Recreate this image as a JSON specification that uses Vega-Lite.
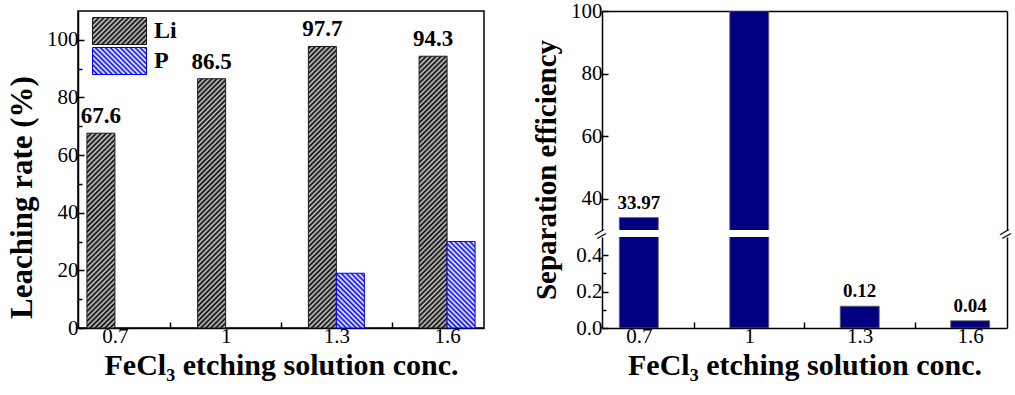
{
"$schema": "https://vega.github.io/schema/vega-lite/v6.json",
"padding": {"left": 5, "top": 0, "right": 0, "bottom": 0},
"params": [
{"name": "hatchK", "value": [{"offset":0,"color":"#000"},{"offset":0.008,"color":"#ccc"},{"offset":0.016,"color":"#000"},{"offset":0.024,"color":"#ccc"},{"offset":0.032,"color":"#000"},{"offset":0.04,"color":"#ccc"},{"offset":0.048,"color":"#000"},{"offset":0.056,"color":"#ccc"},{"offset":0.064,"color":"#000"},{"offset":0.072,"color":"#ccc"},{"offset":0.08,"color":"#000"},{"offset":0.088,"color":"#ccc"},{"offset":0.096,"color":"#000"},{"offset":0.104,"color":"#ccc"},{"offset":0.112,"color":"#000"},{"offset":0.12,"color":"#ccc"},{"offset":0.128,"color":"#000"},{"offset":0.136,"color":"#ccc"},{"offset":0.144,"color":"#000"},{"offset":0.152,"color":"#ccc"},{"offset":0.16,"color":"#000"},{"offset":0.168,"color":"#ccc"},{"offset":0.176,"color":"#000"},{"offset":0.184,"color":"#ccc"},{"offset":0.192,"color":"#000"},
{"offset":0.2,"color":"#ccc"},{"offset":0.208,"color":"#000"},{"offset":0.216,"color":"#ccc"},{"offset":0.224,"color":"#000"},{"offset":0.232,"color":"#ccc"},{"offset":0.24,"color":"#000"},{"offset":0.248,"color":"#ccc"},{"offset":0.256,"color":"#000"},{"offset":0.264,"color":"#ccc"},{"offset":0.272,"color":"#000"},{"offset":0.28,"color":"#ccc"},{"offset":0.288,"color":"#000"},{"offset":0.296,"color":"#ccc"},{"offset":0.304,"color":"#000"},{"offset":0.312,"color":"#ccc"},{"offset":0.32,"color":"#000"},{"offset":0.328,"color":"#ccc"},{"offset":0.336,"color":"#000"},{"offset":0.344,"color":"#ccc"},{"offset":0.352,"color":"#000"},{"offset":0.36,"color":"#ccc"},{"offset":0.368,"color":"#000"},{"offset":0.376,"color":"#ccc"},{"offset":0.384,"color":"#000"},{"offset":0.392,"color":"#ccc"},
{"offset":0.4,"color":"#000"},{"offset":0.408,"color":"#ccc"},{"offset":0.416,"color":"#000"},{"offset":0.424,"color":"#ccc"},{"offset":0.432,"color":"#000"},{"offset":0.44,"color":"#ccc"},{"offset":0.448,"color":"#000"},{"offset":0.456,"color":"#ccc"},{"offset":0.464,"color":"#000"},{"offset":0.472,"color":"#ccc"},{"offset":0.48,"color":"#000"},{"offset":0.488,"color":"#ccc"},{"offset":0.496,"color":"#000"},{"offset":0.504,"color":"#ccc"},{"offset":0.512,"color":"#000"},{"offset":0.52,"color":"#ccc"},{"offset":0.528,"color":"#000"},{"offset":0.536,"color":"#ccc"},{"offset":0.544,"color":"#000"},{"offset":0.552,"color":"#ccc"},{"offset":0.56,"color":"#000"},{"offset":0.568,"color":"#ccc"},{"offset":0.576,"color":"#000"},{"offset":0.584,"color":"#ccc"},{"offset":0.592,"color":"#000"},
{"offset":0.6,"color":"#ccc"},{"offset":0.608,"color":"#000"},{"offset":0.616,"color":"#ccc"},{"offset":0.624,"color":"#000"},{"offset":0.632,"color":"#ccc"},{"offset":0.64,"color":"#000"},{"offset":0.648,"color":"#ccc"},{"offset":0.656,"color":"#000"},{"offset":0.664,"color":"#ccc"},{"offset":0.672,"color":"#000"},{"offset":0.68,"color":"#ccc"},{"offset":0.688,"color":"#000"},{"offset":0.696,"color":"#ccc"},{"offset":0.704,"color":"#000"},{"offset":0.712,"color":"#ccc"},{"offset":0.72,"color":"#000"},{"offset":0.728,"color":"#ccc"},{"offset":0.736,"color":"#000"},{"offset":0.744,"color":"#ccc"},{"offset":0.752,"color":"#000"},{"offset":0.76,"color":"#ccc"},{"offset":0.768,"color":"#000"},{"offset":0.776,"color":"#ccc"},{"offset":0.784,"color":"#000"},{"offset":0.792,"color":"#ccc"},
{"offset":0.8,"color":"#000"},{"offset":0.808,"color":"#ccc"},{"offset":0.816,"color":"#000"},{"offset":0.824,"color":"#ccc"},{"offset":0.832,"color":"#000"},{"offset":0.84,"color":"#ccc"},{"offset":0.848,"color":"#000"},{"offset":0.856,"color":"#ccc"},{"offset":0.864,"color":"#000"},{"offset":0.872,"color":"#ccc"},{"offset":0.88,"color":"#000"},{"offset":0.888,"color":"#ccc"},{"offset":0.896,"color":"#000"},{"offset":0.904,"color":"#ccc"},{"offset":0.912,"color":"#000"},{"offset":0.92,"color":"#ccc"},{"offset":0.928,"color":"#000"},{"offset":0.936,"color":"#ccc"},{"offset":0.944,"color":"#000"},{"offset":0.952,"color":"#ccc"},{"offset":0.96,"color":"#000"},{"offset":0.968,"color":"#ccc"},{"offset":0.976,"color":"#000"},{"offset":0.984,"color":"#ccc"},{"offset":0.992,"color":"#000"},{"offset":1,"color":"#ccc"}]},
{"name": "hatchB", "value": [{"offset":0,"color":"#00f"},{"offset":0.008,"color":"#fff"},{"offset":0.016,"color":"#00f"},{"offset":0.024,"color":"#fff"},{"offset":0.032,"color":"#00f"},{"offset":0.04,"color":"#fff"},{"offset":0.048,"color":"#00f"},{"offset":0.056,"color":"#fff"},{"offset":0.064,"color":"#00f"},{"offset":0.072,"color":"#fff"},{"offset":0.08,"color":"#00f"},{"offset":0.088,"color":"#fff"},{"offset":0.096,"color":"#00f"},{"offset":0.104,"color":"#fff"},{"offset":0.112,"color":"#00f"},{"offset":0.12,"color":"#fff"},{"offset":0.128,"color":"#00f"},{"offset":0.136,"color":"#fff"},{"offset":0.144,"color":"#00f"},{"offset":0.152,"color":"#fff"},{"offset":0.16,"color":"#00f"},{"offset":0.168,"color":"#fff"},{"offset":0.176,"color":"#00f"},{"offset":0.184,"color":"#fff"},{"offset":0.192,"color":"#00f"},
{"offset":0.2,"color":"#fff"},{"offset":0.208,"color":"#00f"},{"offset":0.216,"color":"#fff"},{"offset":0.224,"color":"#00f"},{"offset":0.232,"color":"#fff"},{"offset":0.24,"color":"#00f"},{"offset":0.248,"color":"#fff"},{"offset":0.256,"color":"#00f"},{"offset":0.264,"color":"#fff"},{"offset":0.272,"color":"#00f"},{"offset":0.28,"color":"#fff"},{"offset":0.288,"color":"#00f"},{"offset":0.296,"color":"#fff"},{"offset":0.304,"color":"#00f"},{"offset":0.312,"color":"#fff"},{"offset":0.32,"color":"#00f"},{"offset":0.328,"color":"#fff"},{"offset":0.336,"color":"#00f"},{"offset":0.344,"color":"#fff"},{"offset":0.352,"color":"#00f"},{"offset":0.36,"color":"#fff"},{"offset":0.368,"color":"#00f"},{"offset":0.376,"color":"#fff"},{"offset":0.384,"color":"#00f"},{"offset":0.392,"color":"#fff"},
{"offset":0.4,"color":"#00f"},{"offset":0.408,"color":"#fff"},{"offset":0.416,"color":"#00f"},{"offset":0.424,"color":"#fff"},{"offset":0.432,"color":"#00f"},{"offset":0.44,"color":"#fff"},{"offset":0.448,"color":"#00f"},{"offset":0.456,"color":"#fff"},{"offset":0.464,"color":"#00f"},{"offset":0.472,"color":"#fff"},{"offset":0.48,"color":"#00f"},{"offset":0.488,"color":"#fff"},{"offset":0.496,"color":"#00f"},{"offset":0.504,"color":"#fff"},{"offset":0.512,"color":"#00f"},{"offset":0.52,"color":"#fff"},{"offset":0.528,"color":"#00f"},{"offset":0.536,"color":"#fff"},{"offset":0.544,"color":"#00f"},{"offset":0.552,"color":"#fff"},{"offset":0.56,"color":"#00f"},{"offset":0.568,"color":"#fff"},{"offset":0.576,"color":"#00f"},{"offset":0.584,"color":"#fff"},{"offset":0.592,"color":"#00f"},
{"offset":0.6,"color":"#fff"},{"offset":0.608,"color":"#00f"},{"offset":0.616,"color":"#fff"},{"offset":0.624,"color":"#00f"},{"offset":0.632,"color":"#fff"},{"offset":0.64,"color":"#00f"},{"offset":0.648,"color":"#fff"},{"offset":0.656,"color":"#00f"},{"offset":0.664,"color":"#fff"},{"offset":0.672,"color":"#00f"},{"offset":0.68,"color":"#fff"},{"offset":0.688,"color":"#00f"},{"offset":0.696,"color":"#fff"},{"offset":0.704,"color":"#00f"},{"offset":0.712,"color":"#fff"},{"offset":0.72,"color":"#00f"},{"offset":0.728,"color":"#fff"},{"offset":0.736,"color":"#00f"},{"offset":0.744,"color":"#fff"},{"offset":0.752,"color":"#00f"},{"offset":0.76,"color":"#fff"},{"offset":0.768,"color":"#00f"},{"offset":0.776,"color":"#fff"},{"offset":0.784,"color":"#00f"},{"offset":0.792,"color":"#fff"},
{"offset":0.8,"color":"#00f"},{"offset":0.808,"color":"#fff"},{"offset":0.816,"color":"#00f"},{"offset":0.824,"color":"#fff"},{"offset":0.832,"color":"#00f"},{"offset":0.84,"color":"#fff"},{"offset":0.848,"color":"#00f"},{"offset":0.856,"color":"#fff"},{"offset":0.864,"color":"#00f"},{"offset":0.872,"color":"#fff"},{"offset":0.88,"color":"#00f"},{"offset":0.888,"color":"#fff"},{"offset":0.896,"color":"#00f"},{"offset":0.904,"color":"#fff"},{"offset":0.912,"color":"#00f"},{"offset":0.92,"color":"#fff"},{"offset":0.928,"color":"#00f"},{"offset":0.936,"color":"#fff"},{"offset":0.944,"color":"#00f"},{"offset":0.952,"color":"#fff"},{"offset":0.96,"color":"#00f"},{"offset":0.968,"color":"#fff"},{"offset":0.976,"color":"#00f"},{"offset":0.984,"color":"#fff"},{"offset":0.992,"color":"#00f"},{"offset":1,"color":"#fff"}]}
],
"datasets": {
"leach": [
{"conc": 0.7, "series": "Li", "value": 67.6},
{"conc": 1, "series": "Li", "value": 86.5},
{"conc": 1.3, "series": "Li", "value": 97.7},
{"conc": 1.6, "series": "Li", "value": 94.3},
{"conc": 0.7, "series": "P", "value": 0},
{"conc": 1, "series": "P", "value": 0},
{"conc": 1.3, "series": "P", "value": 19},
{"conc": 1.6, "series": "P", "value": 30}
],
"sep": [
{"conc": 0.7, "value": 33.97},
{"conc": 1, "value": 100},
{"conc": 1.3, "value": 0.12},
{"conc": 1.6, "value": 0.04}
]
},
"config": {
"font": "Liberation Serif",
"axis": {"labelFont": "Liberation Serif", "labelFontSize": 21, "labelColor": "#000", "titleFont": "Liberation Serif", "titleFontWeight": "bold", "titleColor": "#000", "domainColor": "#000", "domainWidth": 1.5, "tickColor": "#000", "tickWidth": 1.5, "grid": false, "labelFlush": false, "labelOverlap": false, "labelBound": false},
"text": {"font": "Liberation Serif", "fontWeight": "bold", "color": "#000"}
},
"spacing": 118,
"bounds": "flush",
"hconcat": [
{
"width": 406, "height": 317,
"data": {"name": "leach"},
"view": {"stroke": "#000", "strokeWidth": 1.5},
"encoding": {
"x": {"field": "conc", "type": "quantitative", "scale": {"domain": [0.6, 1.7], "nice": false, "zero": false, "padding": 0},
 "axis": {"values": [0.7, 0.85, 1, 1.15, 1.3, 1.45, 1.6], "format": "~g", "labelExpr": "datum.value == 0.85 || datum.value == 1.15 || datum.value == 1.45 ? '' : datum.label", "tickOpacity": {"condition": {"test": "datum.value == 0.85 || datum.value == 1.15 || datum.value == 1.45", "value": 1}, "value": 0}, "tickSize": -6, "labelPadding": 3, "title": "FeCl₃ etching solution conc.", "titleFontSize": 30, "titlePadding": 4}},
"y": {"field": "value", "type": "quantitative", "scale": {"domain": [0, 110], "nice": false},
 "axis": {"values": [0, 10, 20, 30, 40, 50, 60, 70, 80, 90, 100], "labelExpr": "datum.value % 20 == 0 ? datum.label : ''", "tickSize": {"condition": {"test": "datum.value % 20 == 0", "value": -6}, "value": -4}, "labelPadding": 6, "title": "Leaching rate (%)", "titleFontSize": 31, "titleY": 186, "titlePadding": 8}}
},
"layer": [
{"transform": [{"filter": "datum.series == 'Li'"}],
 "mark": {"type": "bar", "width": 28, "xOffset": -14, "strokeWidth": 1, "fill": {"expr": "isNumber(datum.value) ? {gradient:'linear',x1:1,y1:1,x2:1-310*28/(784+pow(datum.value*2.882,2)),y2:1-310*datum.value*2.882/(784+pow(datum.value*2.882,2)),stops:hatchK} : (datum.value == 'P' ? {gradient:'linear',x1:0,y1:1,x2:4.593,y2:-1.296,stops:hatchB} : {gradient:'linear',x1:1,y1:1,x2:-3.593,y2:-1.296,stops:hatchK})"}},
 "encoding": {"stroke": {"field": "series", "type": "nominal", "scale": {"domain": ["Li", "P"], "range": ["#1a1a1a", "#0000ff"]},
  "legend": {"title": null, "orient": "none", "legendX": 14, "legendY": 6, "symbolType": "M-1,-1H3V1H-1Z", "symbolSize": 729, "symbolStrokeWidth": 1, "labelFont": "Liberation Serif", "labelFontSize": 24, "labelFontWeight": "bold", "labelColor": "#000", "labelOffset": 34, "rowPadding": -4, "padding": 0}}}},
{"transform": [{"filter": "datum.series == 'P' && datum.value > 0"}],
 "mark": {"type": "bar", "width": 28, "xOffset": 14, "strokeWidth": 1, "fill": {"expr": "isNumber(datum.value) ? {gradient:'linear',x1:0,y1:1,x2:310*28/(784+pow(datum.value*2.882,2)),y2:1-310*datum.value*2.882/(784+pow(datum.value*2.882,2)),stops:hatchB} : (datum.value == 'P' ? {gradient:'linear',x1:0,y1:1,x2:4.593,y2:-1.296,stops:hatchB} : {gradient:'linear',x1:1,y1:1,x2:-3.593,y2:-1.296,stops:hatchK})"}},
 "encoding": {"stroke": {"field": "series", "type": "nominal", "scale": {"domain": ["Li", "P"], "range": ["#1a1a1a", "#0000ff"]},
  "legend": {"title": null, "orient": "none", "legendX": 14, "legendY": 6, "symbolType": "M-1,-1H3V1H-1Z", "symbolSize": 729, "symbolStrokeWidth": 1, "labelFont": "Liberation Serif", "labelFontSize": 24, "labelFontWeight": "bold", "labelColor": "#000", "labelOffset": 34, "rowPadding": -4, "padding": 0}}}},
{"transform": [{"filter": "datum.series == 'Li'"}],
 "mark": {"type": "text", "xOffset": -14, "dy": -10, "baseline": "alphabetic", "align": "center", "fontSize": 23},
 "encoding": {"text": {"field": "value"}}}
]
},
{
"vconcat": [
{
"width": 405, "height": 219,
"data": {"name": "sep"},
"view": {"stroke": null},
"layer": [
{"mark": {"type": "bar", "width": 39, "clip": true, "fill": "#000080", "stroke": "#666", "strokeWidth": 0.8},
 "encoding": {
 "x": {"field": "conc", "type": "quantitative", "scale": {"domain": [0.6, 1.7], "nice": false, "zero": false, "padding": 0}, "axis": {"orient": "top", "labels": false, "ticks": false, "title": null}},
 "y": {"field": "value", "type": "quantitative", "scale": {"domain": [30, 100], "nice": false, "zero": false}, "axis": {"orient": "left", "values": [40, 60, 80, 100], "format": "d", "tickSize": -6, "labelPadding": 6, "title": "Separation efficiency", "titleFontSize": 29, "titleY": 158.5, "titlePadding": 9}}
 }},
{"transform": [{"filter": "datum.value >= 30 && datum.value < 100"}],
 "mark": {"type": "text", "dy": -9, "baseline": "alphabetic", "align": "center", "fontSize": 19},
 "encoding": {
 "x": {"field": "conc", "type": "quantitative", "scale": {"domain": [0.6, 1.7], "nice": false, "zero": false, "padding": 0}, "axis": {"orient": "top", "labels": false, "ticks": false, "title": null}},
 "y": {"field": "value", "type": "quantitative", "scale": {"domain": [30, 100], "nice": false, "zero": false}, "axis": {"orient": "right", "labels": false, "ticks": false, "title": null}},
 "text": {"field": "value"}
 }}
],
"resolve": {"axis": {"y": "independent"}}
},
{
"width": 405, "height": 91,
"data": {"name": "sep"},
"view": {"stroke": null},
"encoding": {
 "x": {"field": "conc", "type": "quantitative", "scale": {"domain": [0.6, 1.7], "nice": false, "zero": false, "padding": 0},
  "axis": {"values": [0.7, 0.85, 1, 1.15, 1.3, 1.45, 1.6], "format": "~g", "labelExpr": "datum.value == 0.85 || datum.value == 1.15 || datum.value == 1.45 ? '' : datum.label", "tickOpacity": {"condition": {"test": "datum.value == 0.85 || datum.value == 1.15 || datum.value == 1.45", "value": 1}, "value": 0}, "tickSize": -6, "labelPadding": 3, "title": "FeCl₃ etching solution conc.", "titleFontSize": 30, "titlePadding": 4}}
},
"layer": [
{"mark": {"type": "bar", "width": 39, "clip": true, "fill": "#000080", "stroke": "#666", "strokeWidth": 0.8},
 "encoding": {
 "y": {"field": "value", "type": "quantitative", "scale": {"domain": [0, 0.5], "nice": false},
  "axis": {"values": [0, 0.1, 0.2, 0.3, 0.4], "format": ".1f", "labelExpr": "datum.value == 0.1 || datum.value == 0.3 ? '' : datum.label", "tickSize": {"condition": {"test": "datum.value == 0.1 || datum.value == 0.3", "value": -4}, "value": -6}, "labelPadding": 6, "title": null}}
 }},
{"transform": [{"filter": "datum.value < 0.5"}],
 "mark": {"type": "text", "dy": -9, "baseline": "alphabetic", "align": "center", "fontSize": 19},
 "encoding": {
 "y": {"field": "value", "type": "quantitative", "scale": {"domain": [0, 0.5], "nice": false}, "axis": {"orient": "right", "labels": false, "ticks": false, "title": null}},
 "text": {"field": "value"}
 }},
{"transform": [{"filter": "datum.conc == 0.7"}],
 "mark": {"type": "text", "angle": 330, "fontSize": 22, "fontWeight": "normal", "baseline": "middle", "align": "center", "dy": -3},
 "encoding": {
 "x": {"datum": 0.6, "type": "quantitative"},
 "y": {"datum": 0.5, "type": "quantitative", "axis": null},
 "text": {"value": "="}
 }},
{"transform": [{"filter": "datum.conc == 0.7"}],
 "mark": {"type": "text", "angle": 330, "fontSize": 22, "fontWeight": "normal", "baseline": "middle", "align": "center", "dy": -3},
 "encoding": {
 "x": {"datum": 1.7, "type": "quantitative"},
 "y": {"datum": 0.5, "type": "quantitative", "axis": null},
 "text": {"value": "="}
 }}
],
"resolve": {"axis": {"y": "independent"}}
}
],
"spacing": 7,
"bounds": "flush"
}
]
}
